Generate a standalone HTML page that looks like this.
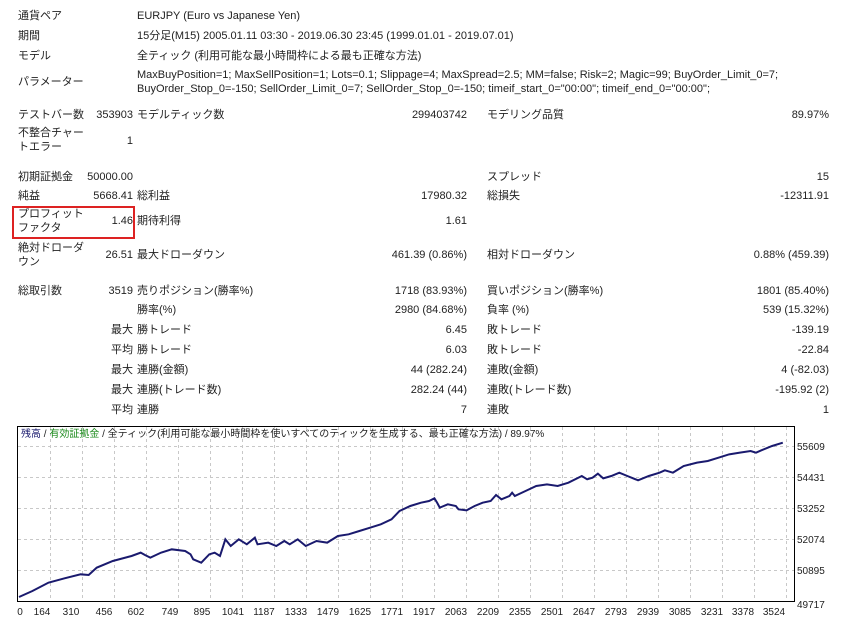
<!DOCTYPE html>
<html><head><meta charset="utf-8"><style>
body{margin:0;background:#fff;width:845px;height:621px;position:relative;overflow:hidden;font-family:"Liberation Sans","Noto Sans CJK JP",sans-serif;font-size:11px;color:#222}
.t{position:absolute;white-space:nowrap;line-height:13px}
.r{position:absolute;white-space:nowrap;line-height:13px;text-align:right}
</style></head><body>
<div class="t" style="left:18px;top:10px">通貨ペア</div>
<div class="t" style="left:137px;top:10px">EURJPY (Euro vs Japanese Yen)</div>
<div class="t" style="left:18px;top:30px">期間</div>
<div class="t" style="left:137px;top:30px">15分足(M15) 2005.01.11 03:30 - 2019.06.30 23:45 (1999.01.01 - 2019.07.01)</div>
<div class="t" style="left:18px;top:50px">モデル</div>
<div class="t" style="left:137px;top:50px">全ティック (利用可能な最小時間枠による最も正確な方法)</div>
<div class="t" style="left:18px;top:76px">パラメーター</div>
<div class="t" style="left:137px;top:69px">MaxBuyPosition=1; MaxSellPosition=1; Lots=0.1; Slippage=4; MaxSpread=2.5; MM=false; Risk=2; Magic=99; BuyOrder_Limit_0=7;</div>
<div class="t" style="left:137px;top:83px">BuyOrder_Stop_0=-150; SellOrder_Limit_0=7; SellOrder_Stop_0=-150; timeif_start_0="00:00"; timeif_end_0="00:00";</div>

<div class="t" style="left:18px;top:109px">テストバー数</div>
<div class="r" style="right:712px;top:109px">353903</div>
<div class="t" style="left:137px;top:109px">モデルティック数</div>
<div class="r" style="right:378px;top:109px">299403742</div>
<div class="t" style="left:487px;top:109px">モデリング品質</div>
<div class="r" style="right:16px;top:109px">89.97%</div>

<div class="t" style="left:18px;top:127px">不整合チャー</div>
<div class="t" style="left:18px;top:141px">トエラー</div>
<div class="r" style="right:712px;top:135px">1</div>

<div class="t" style="left:18px;top:171px">初期証拠金</div>
<div class="r" style="right:712px;top:171px">50000.00</div>
<div class="t" style="left:487px;top:171px">スプレッド</div>
<div class="r" style="right:16px;top:171px">15</div>

<div class="t" style="left:18px;top:190px">純益</div>
<div class="r" style="right:712px;top:190px">5668.41</div>
<div class="t" style="left:137px;top:190px">総利益</div>
<div class="r" style="right:378px;top:190px">17980.32</div>
<div class="t" style="left:487px;top:190px">総損失</div>
<div class="r" style="right:16px;top:190px">-12311.91</div>

<div style="position:absolute;left:12px;top:206px;width:119px;height:29px;border:2px solid #d22"></div>
<div class="t" style="left:18px;top:208px">プロフィット</div>
<div class="t" style="left:18px;top:222px">ファクタ</div>
<div class="r" style="right:712px;top:215px">1.46</div>
<div class="t" style="left:137px;top:215px">期待利得</div>
<div class="r" style="right:378px;top:215px">1.61</div>

<div class="t" style="left:18px;top:242px">絶対ドローダ</div>
<div class="t" style="left:18px;top:256px">ウン</div>
<div class="r" style="right:712px;top:249px">26.51</div>
<div class="t" style="left:137px;top:249px">最大ドローダウン</div>
<div class="r" style="right:378px;top:249px">461.39 (0.86%)</div>
<div class="t" style="left:487px;top:249px">相対ドローダウン</div>
<div class="r" style="right:16px;top:249px">0.88% (459.39)</div>

<div class="t" style="left:18px;top:285px">総取引数</div>
<div class="r" style="right:712px;top:285px">3519</div>
<div class="t" style="left:137px;top:285px">売りポジション(勝率%)</div>
<div class="r" style="right:378px;top:285px">1718 (83.93%)</div>
<div class="t" style="left:487px;top:285px">買いポジション(勝率%)</div>
<div class="r" style="right:16px;top:285px">1801 (85.40%)</div>

<div class="t" style="left:137px;top:304px">勝率(%)</div>
<div class="r" style="right:378px;top:304px">2980 (84.68%)</div>
<div class="t" style="left:487px;top:304px">負率 (%)</div>
<div class="r" style="right:16px;top:304px">539 (15.32%)</div>

<div class="r" style="right:712px;top:324px">最大</div>
<div class="t" style="left:137px;top:324px">勝トレード</div>
<div class="r" style="right:378px;top:324px">6.45</div>
<div class="t" style="left:487px;top:324px">敗トレード</div>
<div class="r" style="right:16px;top:324px">-139.19</div>

<div class="r" style="right:712px;top:344px">平均</div>
<div class="t" style="left:137px;top:344px">勝トレード</div>
<div class="r" style="right:378px;top:344px">6.03</div>
<div class="t" style="left:487px;top:344px">敗トレード</div>
<div class="r" style="right:16px;top:344px">-22.84</div>

<div class="r" style="right:712px;top:364px">最大</div>
<div class="t" style="left:137px;top:364px">連勝(金額)</div>
<div class="r" style="right:378px;top:364px">44 (282.24)</div>
<div class="t" style="left:487px;top:364px">連敗(金額)</div>
<div class="r" style="right:16px;top:364px">4 (-82.03)</div>

<div class="r" style="right:712px;top:384px">最大</div>
<div class="t" style="left:137px;top:384px">連勝(トレード数)</div>
<div class="r" style="right:378px;top:384px">282.24 (44)</div>
<div class="t" style="left:487px;top:384px">連敗(トレード数)</div>
<div class="r" style="right:16px;top:384px">-195.92 (2)</div>

<div class="r" style="right:712px;top:404px">平均</div>
<div class="t" style="left:137px;top:404px">連勝</div>
<div class="r" style="right:378px;top:404px">7</div>
<div class="t" style="left:487px;top:404px">連敗</div>
<div class="r" style="right:16px;top:404px">1</div>

<svg style="position:absolute;left:0;top:0" width="845" height="621">
<g stroke="#c8c8c8" stroke-dasharray="3,3" stroke-width="1">
<line x1="18" y1="446.5" x2="794" y2="446.5"/><line x1="18" y1="477.5" x2="794" y2="477.5"/>
<line x1="18" y1="508.5" x2="794" y2="508.5"/><line x1="18" y1="539.5" x2="794" y2="539.5"/>
<line x1="18" y1="570.5" x2="794" y2="570.5"/>
<line x1="50.5" y1="427" x2="50.5" y2="601"/><line x1="82.5" y1="427" x2="82.5" y2="601"/><line x1="114.5" y1="427" x2="114.5" y2="601"/><line x1="146.5" y1="427" x2="146.5" y2="601"/><line x1="178.5" y1="427" x2="178.5" y2="601"/><line x1="210.5" y1="427" x2="210.5" y2="601"/><line x1="242.5" y1="427" x2="242.5" y2="601"/><line x1="274.5" y1="427" x2="274.5" y2="601"/><line x1="306.5" y1="427" x2="306.5" y2="601"/><line x1="338.5" y1="427" x2="338.5" y2="601"/><line x1="370.5" y1="427" x2="370.5" y2="601"/><line x1="402.5" y1="427" x2="402.5" y2="601"/><line x1="434.5" y1="427" x2="434.5" y2="601"/><line x1="466.5" y1="427" x2="466.5" y2="601"/><line x1="498.5" y1="427" x2="498.5" y2="601"/><line x1="530.5" y1="427" x2="530.5" y2="601"/><line x1="562.5" y1="427" x2="562.5" y2="601"/><line x1="594.5" y1="427" x2="594.5" y2="601"/><line x1="626.5" y1="427" x2="626.5" y2="601"/><line x1="658.5" y1="427" x2="658.5" y2="601"/><line x1="690.5" y1="427" x2="690.5" y2="601"/><line x1="722.5" y1="427" x2="722.5" y2="601"/><line x1="754.5" y1="427" x2="754.5" y2="601"/><line x1="786.5" y1="427" x2="786.5" y2="601"/>
</g>
<rect x="17.5" y="426.5" width="777" height="175" fill="none" stroke="#000" stroke-width="1"/>
<g transform="translate(0.24,421) scale(0.536,0.3333)">
<polyline fill="none" stroke="#1a1a6e" stroke-width="2" vector-effect="non-scaling-stroke" points="35,528 60,510 90,485 120,472 150,460 165,462 180,440 210,420 245,405 262,395 270,402 280,410 300,395 320,385 345,390 355,400 360,415 375,425 390,400 400,395 410,405 415,380 420,355 430,375 445,355 460,370 475,350 480,370 500,365 515,375 530,360 540,370 555,355 570,375 590,360 610,365 630,345 650,340 670,330 690,320 710,310 730,295 745,270 765,255 785,245 800,240 810,232 815,245 820,260 835,250 850,255 855,265 870,268 885,255 900,245 915,240 925,222 935,235 950,225 955,215 960,225 980,210 1000,195 1020,190 1040,195 1060,185 1085,165 1095,175 1105,170 1115,158 1125,172 1140,165 1155,155 1170,165 1190,178 1210,165 1230,155 1240,148 1255,155 1275,135 1300,125 1320,120 1340,110 1360,100 1380,95 1400,90 1410,95 1420,88 1440,75 1460,65"/>
</g>
<g font-family="Liberation Sans, sans-serif" font-size="10" fill="#222">
<text x="797" y="450">55609</text><text x="797" y="481">54431</text><text x="797" y="512">53252</text><text x="797" y="543">52074</text><text x="797" y="574">50895</text><text x="797" y="608">49717</text>
</g>
<g font-family="Liberation Sans, sans-serif" font-size="10" fill="#222" text-anchor="middle">
<text x="20" y="615">0</text><text x="42" y="615">164</text><text x="71" y="615">310</text><text x="104" y="615">456</text><text x="136" y="615">602</text><text x="170" y="615">749</text><text x="202" y="615">895</text><text x="233" y="615">1041</text><text x="264" y="615">1187</text><text x="296" y="615">1333</text><text x="328" y="615">1479</text><text x="360" y="615">1625</text><text x="392" y="615">1771</text><text x="424" y="615">1917</text><text x="456" y="615">2063</text><text x="488" y="615">2209</text><text x="520" y="615">2355</text><text x="552" y="615">2501</text><text x="584" y="615">2647</text><text x="616" y="615">2793</text><text x="648" y="615">2939</text><text x="680" y="615">3085</text><text x="712" y="615">3231</text><text x="743" y="615">3378</text><text x="774" y="615">3524</text>
</g>
</svg>
<div class="t" style="left:21px;top:428px;font-size:10px"><span style="color:#1a1a6e">残高</span> / <span style="color:#1a8a1a">有効証拠金</span> / 全ティック(利用可能な最小時間枠を使いすべてのティックを生成する、最も正確な方法) / 89.97%</div>
</body></html>
